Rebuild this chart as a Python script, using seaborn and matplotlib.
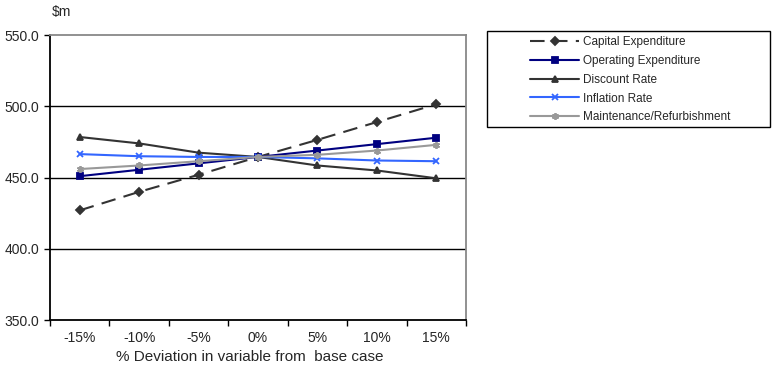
import matplotlib
matplotlib.use("Agg")
import matplotlib.pyplot as plt
from matplotlib.patches import Rectangle
import seaborn as sns
import pandas as pd

# data
deviation = ["-15%", "-10%", "-5%", "0%", "5%", "10%", "15%"]
capital = [427.0, 440.0, 452.0, 464.5, 476.5, 489.0, 501.5]
operating = [451.0, 455.5, 460.0, 464.5, 469.0, 473.5, 478.0]
discount = [478.5, 474.0, 467.5, 464.5, 458.5, 455.0, 449.5]
inflation = [466.5, 465.0, 464.5, 464.5, 463.5, 462.0, 461.5]
maintenance = [456.0, 458.5, 461.5, 464.5, 466.0, 469.0, 473.0]

series = {
    "Capital Expenditure": capital,
    "Operating Expenditure": operating,
    "Discount Rate": discount,
    "Inflation Rate": inflation,
    "Maintenance/Refurbishment": maintenance,
}

sns.set_style("white")
plt.rcParams["font.family"] = ["Liberation Sans", "DejaVu Sans"]

colors = {
    "Capital Expenditure": "#333333",
    "Operating Expenditure": "#000080",
    "Discount Rate": "#333333",
    "Inflation Rate": "#3366FF",
    "Maintenance/Refurbishment": "#999999",
}
markers = {
    "Capital Expenditure": "D",
    "Operating Expenditure": "s",
    "Discount Rate": "^",
    "Inflation Rate": "x",
    "Maintenance/Refurbishment": (6, 2, 0),
}
msize = {
    "Capital Expenditure": 5,
    "Operating Expenditure": 6,
    "Discount Rate": 6.5,
    "Inflation Rate": 7,
    "Maintenance/Refurbishment": 8,
}

fig = plt.figure(figsize=(7.74, 3.7), dpi=100)
ax = fig.add_axes([0.0646, 0.135, 0.5375, 0.77])

for name, vals in series.items():
    d = pd.DataFrame({"dev": deviation, "value": vals})
    dashed = name == "Capital Expenditure"
    sns.lineplot(
        data=d, x="dev", y="value", sort=False, ax=ax,
        color=colors[name], marker=markers[name], markersize=msize[name],
        markeredgecolor=colors[name], markeredgewidth=1.3,
        linewidth=1.2, linestyle=(0, (7, 4)) if dashed else "-",
        label=name,
    )
    # seaborn drops the asterisk tuple marker, so set it again on the line
    line = ax.get_lines()[-1]
    line.set_marker(markers[name])
    line.set_markersize(msize[name])
    line.set_markeredgecolor(colors[name])

ax.set_xlim(-0.5, 6.5)
ax.set_ylim(350, 550)
ax.set_yticks([350, 400, 450, 500, 550])
ax.set_yticklabels(["350.0", "400.0", "450.0", "500.0", "550.0"], fontsize=10)
ax.set_xticks(range(len(deviation)))
ax.set_xticklabels(deviation, fontsize=10)
ax.set_xticks([i - 0.5 for i in range(len(deviation) + 1)], minor=True)
ax.tick_params(axis="x", which="major", length=0, pad=8)
ax.tick_params(axis="x", which="minor", length=4, width=1, color="black", direction="out", bottom=True)
ax.tick_params(axis="y", length=4, width=1, color="black", direction="out", left=True)

for y in [400, 450, 500]:
    ax.axhline(y, color="black", linewidth=1, zorder=0)

ax.spines["left"].set_color("black")
ax.spines["bottom"].set_color("black")
ax.spines["top"].set_color("#888888")
ax.spines["right"].set_color("#888888")
for s in ax.spines.values():
    s.set_linewidth(1.3)

ax.set_xlabel("% Deviation in variable from  base case", fontsize=11)
ax.xaxis.set_label_coords(0.481, -0.105)
ax.set_ylabel("")
fig.text(0.067, 0.968, "$m", fontsize=10, ha="left", va="center")

handles, labels = ax.get_legend_handles_labels()
if ax.legend_:
    ax.legend_.remove()
for h, name in zip(handles, labels):
    h.set_marker(markers[name])
    h.set_markersize(4 if name != "Maintenance/Refurbishment" else 5)
    h.set_markeredgecolor(colors[name])
    h.set_linewidth(1.5)

# legend box drawn separately so entries can sit indented like the original
fig.patches.append(Rectangle((487 / 774, 1 - 127 / 370), 283 / 774, 96 / 370,
                             transform=fig.transFigure, fill=False,
                             edgecolor="black", linewidth=1.0))
leg = fig.legend(
    handles, labels, loc="upper left",
    bbox_to_anchor=(525 / 774, 1 - 31 / 370),
    fontsize=8.5, frameon=False, handlelength=4.1,
    borderpad=0.45, labelspacing=0.57, handletextpad=0.35, borderaxespad=0,
)

fig.savefig("out.png", dpi=100)
